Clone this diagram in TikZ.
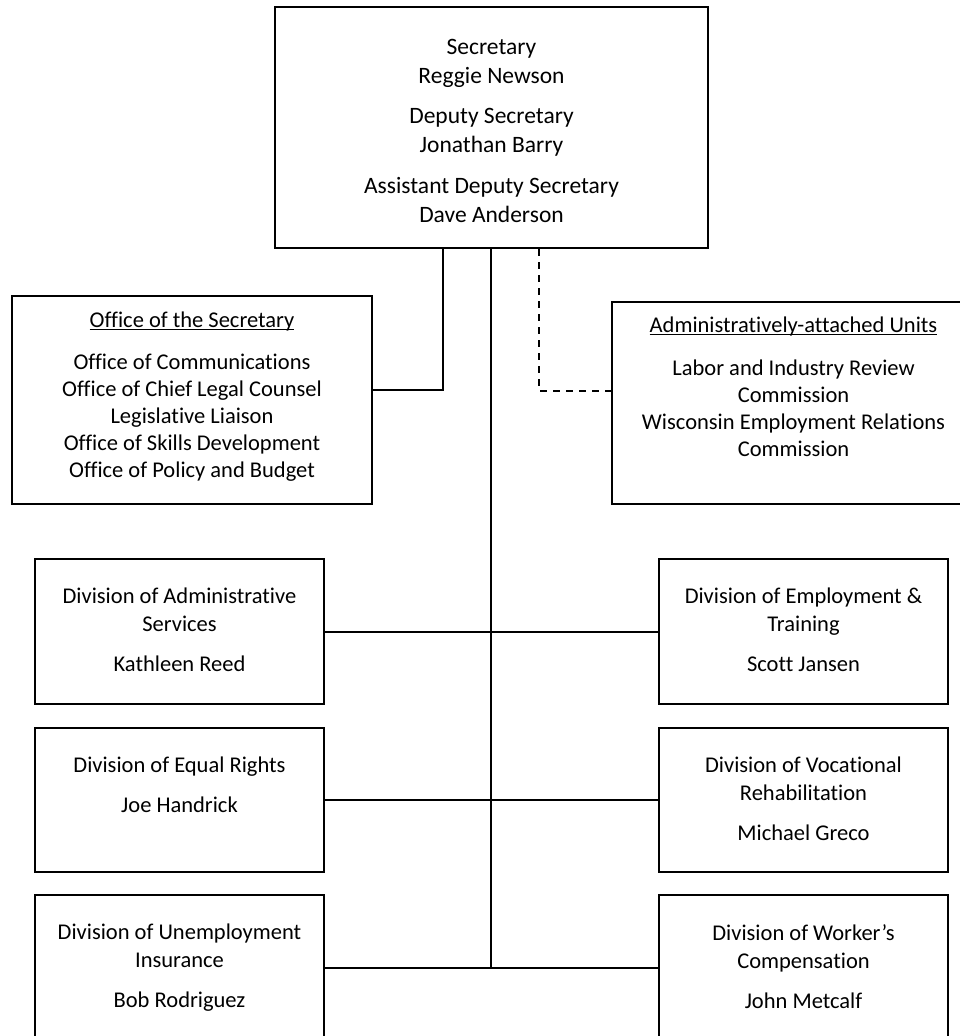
\documentclass[tikz,border=0pt]{standalone}
\usepackage{fontspec}
\setmainfont[Ligatures={NoCommon}]{Carlito}
\newcommand{\myul}[1]{\setbox0\hbox{#1}\rlap{\rule[-3pt]{\wd0}{1.4pt}}\box0}
\begin{document}
\begin{tikzpicture}[x=1pt,y=-1pt,
  box/.style={draw, line width=2pt, inner sep=0pt, anchor=north west},
  txt/.style={anchor=north, inner sep=0pt, align=center, font=\fontsize{22.5}{28}\selectfont},
  toptxt/.style={anchor=north, inner sep=0pt, align=center, font=\fontsize{23.5}{29}\selectfont},
  listtxt/.style={anchor=north, inner sep=0pt, align=center, font=\fontsize{22.5}{27}\selectfont},
  conn/.style={line width=2pt},
  dconn/.style={line width=2pt, dash pattern=on 7pt off 6pt}]
\useasboundingbox (0,0) rectangle (959,1036);
% boxes
\node[box, minimum width=433pt, minimum height=241pt] (sec) at (274,6) {};
\node[box, minimum width=360pt, minimum height=208pt] (office) at (11,295) {};
\node[box, minimum width=363pt, minimum height=202pt] (admin) at (611,301) {};
\node[box, minimum width=289pt, minimum height=145pt] (das) at (34,558) {};
\node[box, minimum width=289pt, minimum height=144pt] (der) at (34,727) {};
\node[box, minimum width=289pt, minimum height=145pt] (dui) at (34,894) {};
\node[box, minimum width=289pt, minimum height=145pt] (det) at (658,558) {};
\node[box, minimum width=289pt, minimum height=144pt] (dvr) at (658,727) {};
\node[box, minimum width=289pt, minimum height=145pt] (dwc) at (658,894) {};
% texts
\node[toptxt] (sectxt) at ([yshift=-33pt]sec.north) {Secretary\\Reggie Newson\\[11pt]Deputy Secretary\\Jonathan Barry\\[12pt]Assistant Deputy Secretary\\Dave Anderson};
\node[listtxt] (officetxt) at ([yshift=-16.5pt]office.north) {\myul{Office of the Secretary}\\[15pt]Office of Communications\\Office of Chief Legal Counsel\\Legislative Liaison\\Office of Skills Development\\Office of Policy and Budget};
\node[listtxt] (admintxt) at ([yshift=-15.5pt]admin.north) {\myul{Administratively-attached Units}\\[16pt]Labor and Industry Review\\Commission\\Wisconsin Employment Relations\\Commission};
\node[txt] (dastxt) at ([yshift=-30pt]das.north) {Division of Administrative\\Services\\[12pt]Kathleen Reed};
\node[txt] (dertxt) at ([yshift=-30pt]der.north) {Division of Equal Rights\\[12pt]Joe Handrick};
\node[txt] (duitxt) at ([yshift=-30pt]dui.north) {Division of Unemployment\\Insurance\\[12pt]Bob Rodriguez};
\node[txt] (dettxt) at ([yshift=-30pt]det.north) {Division of Employment \&\\Training\\[12pt]Scott Jansen};
\node[txt] (dvrtxt) at ([yshift=-30pt]dvr.north) {Division of Vocational\\Rehabilitation\\[12pt]Michael Greco};
\node[txt] (dwctxt) at ([yshift=-30pt]dwc.north) {Division of Worker’s\\Compensation\\[12pt]John Metcalf};
% connectors
\coordinate (j1) at (443,390);
\coordinate (j2) at (539,391);
\coordinate (spine) at (491,967);
\draw[conn] (sec.south -| j1) |- (office.east |- j1);
\draw[dconn] (sec.south -| j2) |- (admin.west |- j2);
\draw[conn] (sec.south -| spine) -- (spine);
\draw[conn] (das.east) -- (det.west);
\draw[conn] (der.east) -- (dvr.west);
\draw[conn] (dui.east) -- (dwc.west);
\end{tikzpicture}
\end{document}
